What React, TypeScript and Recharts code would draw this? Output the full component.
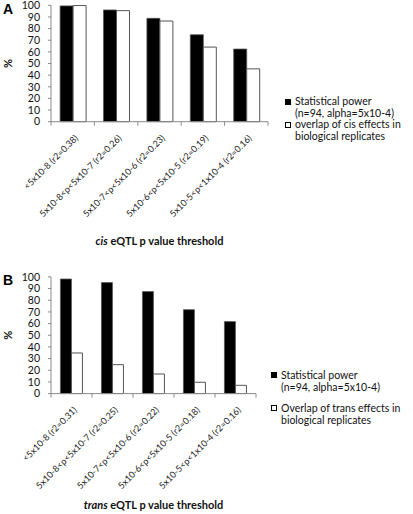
import { Bar, BarChart, Label, XAxis, YAxis } from 'recharts';

const cisThresholds = [
  '<5x10-8 (r2=0.38)',
  '5x10-8<p<5x10-7 (r2=0.26)',
  '5x10-7<p<5x10-6 (r2=0.23)',
  '5x10-6<p<5x10-5 (r2=0.19)',
  '5x10-5<p<1x10-4 (r2=0.16)',
];
const cisPower = [99.5, 96, 88.8, 74.7, 62.4];
const cisOverlap = [99.8, 95.4, 86.5, 64.1, 45.4];

const transThresholds = [
  '<5x10-8 (r2=0.31)',
  '5x10-8<p<5x10-7 (r2=0.25)',
  '5x10-7<p<5x10-6 (r2=0.22)',
  '5x10-6<p<5x10-5 (r2=0.18)',
  '5x10-5<p<1x10-4 (r2=0.16)',
];
const transPower = [98.2, 95.1, 87.4, 71.9, 61.7];
const transOverlap = [34.8, 24.8, 16.8, 9.7, 7.1];

const percentTicks = [0, 10, 20, 30, 40, 50, 60, 70, 80, 90, 100];

const FONT = 'Lato, "Open Sans", sans-serif';
const AXIS = '#8a8a8a';

function makeRows(cats: string[], power: number[], overlap: number[]) {
  return cats.map((c, i) => ({ name: c, power: power[i], overlap: overlap[i] }));
}

function CategoryTick(props: any) {
  const { x, y, payload, index, band, count } = props;
  const half = band / 2;
  return (
    <g>
      <line x1={x - half} x2={x - half} y1={y} y2={y + 4} stroke={AXIS} />
      {index === count - 1 && <line x1={x + half} x2={x + half} y1={y} y2={y + 4} stroke={AXIS} />}
      <text
        transform={`translate(${x + 6},${y + 17}) rotate(-45)`}
        textAnchor="end"
        fontSize={9}
        fontFamily={FONT}
        fill="#222"
      >
        {payload.value}
      </text>
    </g>
  );
}

function LegendBox({ lines, lineHeight, entryGap, left, top }: any) {
  return (
    <div
      style={{
        position: 'absolute',
        left,
        top,
        fontFamily: FONT,
        fontSize: 10.5,
        color: '#111',
        lineHeight: `${lineHeight}px`,
      }}
    >
      {lines.map((l: any, i: number) => (
        <div key={i} style={{ display: 'flex', marginTop: i ? entryGap : 0 }}>
          <span
            style={{
              width: 6,
              height: 6,
              marginTop: (lineHeight - 6) / 2,
              marginRight: 4,
              boxSizing: 'border-box',
              background: l.filled ? '#000' : '#fff',
              border: '1px solid #000',
              flexShrink: 0,
            }}
          />
          <div style={{ whiteSpace: 'nowrap' }}>
            {l.text.map((t: string, j: number) => (
              <div key={j}>{t}</div>
            ))}
          </div>
        </div>
      ))}
    </div>
  );
}

function Panel({ cats, power, overlap, height, top, right, gap, title, titleDy }: any) {
  const rows = makeRows(cats, power, overlap);
  const plotW = 413 - 51 - right;
  const band = plotW / cats.length;
  return (
    <BarChart
      width={413}
      height={height}
      data={rows}
      margin={{ top, right, left: 0, bottom: 0 }}
      barCategoryGap={gap}
      barGap={0}
    >
      <XAxis
        dataKey="name"
        height={titleDy}
        stroke={AXIS}
        tickLine={false}
        tickSize={0}
        tickMargin={0}
        interval={0}
        tick={<CategoryTick band={band} count={cats.length} />}
      >
        <Label
          content={(p: any) => {
            const vb = p.viewBox;
            return (
              <text
                x={vb.x + vb.width / 2}
                y={vb.y + titleDy - 5}
                textAnchor="middle"
                fontFamily={FONT}
                fontWeight="bold"
                fontSize={11}
                fill="#111"
              >
                <tspan fontStyle="italic">{title}</tspan>
                <tspan> eQTL p value threshold</tspan>
              </text>
            );
          }}
        />
      </XAxis>
      <YAxis
        width={51}
        domain={[0, 100]}
        ticks={percentTicks}
        interval={0}
        stroke={AXIS}
        tickSize={3}
        tickMargin={8}
        tick={{ fill: '#111', fontSize: 10.5, fontFamily: FONT }}
      >
        <Label
          content={(p: any) => {
            const vb = p.viewBox;
            const cy = vb.y + vb.height / 2;
            return (
              <text
                x={7}
                y={cy}
                transform={`rotate(-90, 7, ${cy})`}
                textAnchor="middle"
                dominantBaseline="central"
                fontFamily={FONT}
                fontWeight="bold"
                fontSize={11}
                fill="#111"
              >
                %
              </text>
            );
          }}
        />
      </YAxis>
      <Bar dataKey="power" fill="#000" stroke="#555" strokeWidth={0.8} isAnimationActive={false} />
      <Bar dataKey="overlap" fill="#fff" stroke="#555" strokeWidth={1} isAnimationActive={false} />
    </BarChart>
  );
}

const letterStyle: any = {
  position: 'absolute',
  left: 3,
  fontFamily: 'Arial, "Liberation Sans", sans-serif',
  fontWeight: 'bold',
  fontSize: 14,
  lineHeight: '14px',
};

export default function App() {
  return (
    <div style={{ position: 'absolute', left: 0, top: 0, width: 413, height: 514, background: '#fff' }}>
      <div style={{ position: 'absolute', left: 0, top: 0 }}>
        <Panel
          cats={cisThresholds}
          power={cisPower}
          overlap={cisOverlap}
          height={250}
          top={5.3}
          right={145}
          gap="21%"
          title="cis"
          titleDy={128.3}
        />
      </div>
      <div style={{ position: 'absolute', left: 0, top: 250 }}>
        <Panel
          cats={transThresholds}
          power={transPower}
          overlap={transOverlap}
          height={264}
          top={26.9}
          right={157}
          gap="23%"
          title="trans"
          titleDy={120.4}
        />
      </div>
      <LegendBox
        left={285}
        top={96}
        lineHeight={11.5}
        entryGap={0}
        lines={[
          { filled: true, text: ['Statistical power', '(n=94, alpha=5x10-4)'] },
          { filled: false, text: ['overlap of cis effects in', 'biological replicates'] },
        ]}
      />
      <LegendBox
        left={271}
        top={369}
        lineHeight={12}
        entryGap={9}
        lines={[
          { filled: true, text: ['Statistical power', '(n=94, alpha=5x10-4)'] },
          { filled: false, text: ['Overlap of trans effects in', 'biological replicates'] },
        ]}
      />
      <div style={{ ...letterStyle, top: 2 }}>A</div>
      <div style={{ ...letterStyle, top: 273 }}>B</div>
    </div>
  );
}
